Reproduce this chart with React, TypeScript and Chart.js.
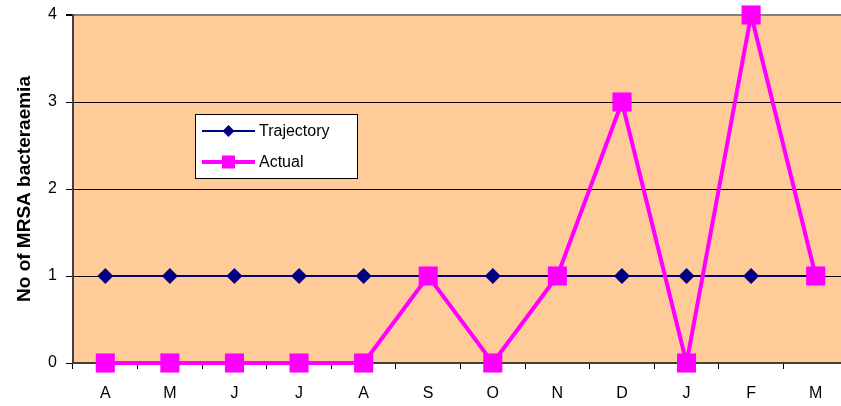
import { useEffect, useRef } from "react";
import { Chart, registerables } from "chart.js";

Chart.register(...registerables);

// Monthly categories (April to March)
const months = ["A", "M", "J", "J", "A", "S", "O", "N", "D", "J", "F", "M"];
// Planned trajectory per month
const trajectory = [1, 1, 1, 1, 1, 1, 1, 1, 1, 1, 1, 1];
// Actual cases per month
const actual = [0, 0, 0, 0, 0, 1, 0, 1, 3, 0, 4, 1];

const seriesNames = ["Trajectory", "Actual"];
const yAxisTitle = "No of MRSA bacteraemia";

const FONT = "'Liberation Sans', Arial, sans-serif";
const NAVY = "#000080";
const MAGENTA = "#FF00FF";
const PLOT_BG = "#FFCC99";

// Fills the plot area with the peach background
const plotBackground = {
  id: "plotBackground",
  beforeDraw(chart: any) {
    const { ctx, chartArea } = chart;
    ctx.save();
    ctx.fillStyle = PLOT_BG;
    ctx.fillRect(chartArea.left, chartArea.top, chartArea.right - chartArea.left, chartArea.bottom - chartArea.top);
    ctx.restore();
  },
};

// Boxed legend sitting inside the plot area
const boxedLegend = {
  id: "boxedLegend",
  afterDraw(chart: any) {
    const { ctx, chartArea } = chart;
    const x0 = chartArea.left + 122;
    const y0 = chartArea.top + 99;
    const w = 162;
    const h = 64;
    ctx.save();
    ctx.fillStyle = "#FFFFFF";
    ctx.fillRect(x0, y0, w, h);
    ctx.strokeStyle = "#000000";
    ctx.lineWidth = 1;
    ctx.strokeRect(x0 + 0.5, y0 + 0.5, w, h);

    const rows = [
      { name: seriesNames[0], color: NAVY, lw: 2, marker: "diamond", y: y0 + 17 },
      { name: seriesNames[1], color: MAGENTA, lw: 4, marker: "square", y: y0 + 48 },
    ];
    for (const r of rows) {
      const lx1 = x0 + 7;
      const lx2 = x0 + 60;
      const mx = (lx1 + lx2) / 2;
      ctx.strokeStyle = r.color;
      ctx.lineWidth = r.lw;
      ctx.beginPath();
      ctx.moveTo(lx1, r.y);
      ctx.lineTo(lx2, r.y);
      ctx.stroke();
      ctx.fillStyle = r.color;
      if (r.marker === "diamond") {
        ctx.beginPath();
        ctx.moveTo(mx - 6, r.y);
        ctx.lineTo(mx, r.y - 6);
        ctx.lineTo(mx + 6, r.y);
        ctx.lineTo(mx, r.y + 6);
        ctx.closePath();
        ctx.fill();
      } else {
        ctx.fillRect(mx - 6.5, r.y - 6.5, 13, 13);
      }
      ctx.fillStyle = "#000000";
      ctx.font = `16px ${FONT}`;
      ctx.textBaseline = "middle";
      ctx.textAlign = "left";
      ctx.fillText(r.name, x0 + 64, r.y + 1);
    }
    ctx.restore();
  },
};

export default function App() {
  const canvasRef = useRef<HTMLCanvasElement | null>(null);

  useEffect(() => {
    const canvas = canvasRef.current;
    if (!canvas) return;
    const chart = new Chart(canvas, {
      type: "line",
      data: {
        labels: months,
        datasets: [
          {
            label: seriesNames[0],
            data: trajectory,
            borderColor: NAVY,
            backgroundColor: NAVY,
            borderWidth: 2,
            pointStyle: "rectRot",
            pointRadius: 8,
            pointBorderWidth: 0,
            pointBackgroundColor: NAVY,
            tension: 0,
            clip: false as any,
            order: 1,
          },
          {
            label: seriesNames[1],
            data: actual,
            borderColor: MAGENTA,
            backgroundColor: MAGENTA,
            borderWidth: 4,
            pointStyle: "rect",
            pointRadius: 13.5,
            pointBorderWidth: 0,
            pointBackgroundColor: MAGENTA,
            tension: 0,
            clip: false as any,
            order: 0,
          },
        ],
      },
      options: {
        responsive: false,
        animation: false,
        devicePixelRatio: 1,
        layout: { autoPadding: false, padding: { top: 15, right: 0, bottom: 0, left: 0 } },
        plugins: {
          legend: { display: false },
          tooltip: { enabled: false },
        },
        scales: {
          x: {
            type: "category",
            offset: true,
            grid: {
              display: true,
              offset: true,
              drawOnChartArea: false,
              drawTicks: true,
              tickLength: 6,
              tickColor: "#000000",
            },
            border: { color: "#404040", width: 2 },
            ticks: {
              color: "#000000",
              font: { family: FONT, size: 16 },
              padding: 15,
              maxRotation: 0,
              autoSkip: false,
            },
            afterFit: (s: any) => {
              s.height = 43;
              s.paddingLeft = 0;
              s.paddingRight = 0;
            },
          },
          y: {
            min: 0,
            max: 4,
            ticks: {
              stepSize: 1,
              color: "#000000",
              font: { family: FONT, size: 16 },
              padding: 9,
            },
            grid: {
              color: (c: any) =>
                c.tick && c.tick.value === 4 ? "#808080" : c.tick && c.tick.value === 0 ? "rgba(0,0,0,0)" : "#000000",
              lineWidth: (c: any) => (c.tick && c.tick.value === 4 ? 2 : 1),
              tickColor: "#000000",
              tickLength: 7,
            },
            border: { color: "#404040", width: 2 },
            title: {
              display: true,
              text: yAxisTitle,
              color: "#000000",
              font: { family: FONT, size: 19, weight: "bold" },
              padding: { top: 13, bottom: 0 },
            },
            afterFit: (s: any) => {
              s.width = 73;
              s.paddingTop = 0;
              s.paddingBottom = 0;
            },
          },
        },
      },
      plugins: [plotBackground, boxedLegend],
    });
    return () => chart.destroy();
  }, []);

  return (
    <div
      style={{
        position: "fixed",
        left: 0,
        top: 0,
        width: 841,
        height: 406,
        overflow: "hidden",
        background: "#FFFFFF",
      }}
    >
      <canvas ref={canvasRef} width={848} height={406} style={{ display: "block" }} />
    </div>
  );
}
